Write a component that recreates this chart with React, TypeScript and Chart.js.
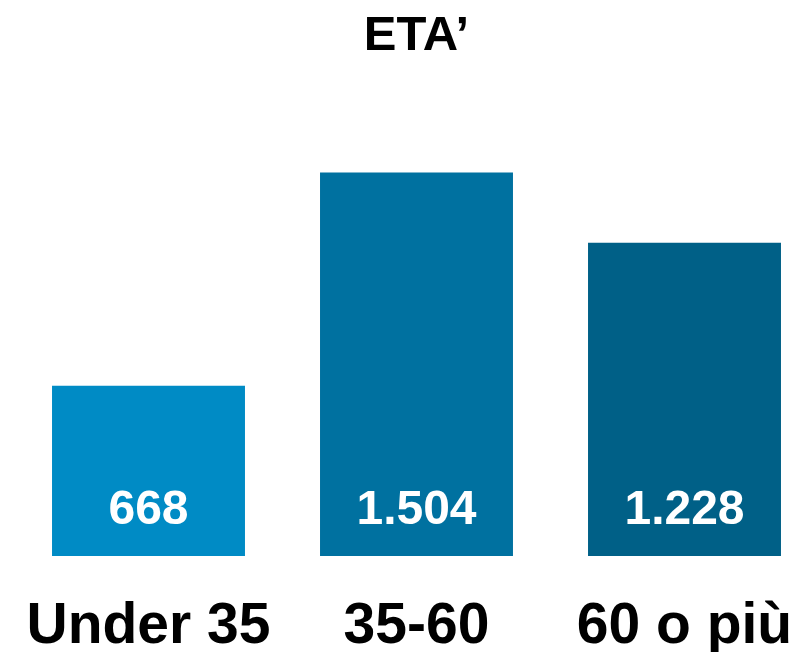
import React, { useEffect, useRef } from "react";
import { Chart, registerables } from "chart.js";

Chart.register(...registerables);

const title = "ETA’";
const categories = ["Under 35", "35-60", "60 o più"];
const values = [668, 1504, 1228];
const barColors = ["#008BC5", "#0071A0", "#006087"];
const yMax = 2000;

const FONT = "'Liberation Sans', Arial, Helvetica, sans-serif";

function formatIt(n: number): string {
  return String(n).replace(/\B(?=(\d{3})+(?!\d))/g, ".");
}

const overlayPlugin = {
  id: "overlay",
  afterDatasetsDraw(chart: any) {
    const ctx = chart.ctx;
    const xs = chart.scales.x;
    const ys = chart.scales.y;
    const meta = chart.getDatasetMeta(0);
    const base = ys.getPixelForValue(0);
    ctx.save();
    ctx.fillStyle = "#ffffff";
    ctx.font = `bold 48px ${FONT}`;
    ctx.textAlign = "center";
    ctx.textBaseline = "alphabetic";
    meta.data.forEach((el: any, i: number) => {
      ctx.fillText(formatIt(values[i]), el.x, base - 32.5);
    });
    // title centred over the category range
    ctx.fillStyle = "#000000";
    ctx.font = `bold 49px ${FONT}`;
    const cx = xs.getPixelForValue((categories.length - 1) / 2);
    ctx.fillText(title, cx, 50);
    ctx.restore();
  },
};

export default function App() {
  const ref = useRef<HTMLCanvasElement | null>(null);

  useEffect(() => {
    document.body.style.margin = "0";
    if (!ref.current) return;
    const chart = new Chart(ref.current, {
      type: "bar",
      data: {
        datasets: [
          {
            data: values.map((v, i) => ({ x: i, y: v })),
            backgroundColor: barColors,
            borderWidth: 0,
            barPercentage: 0.72,
            categoryPercentage: 1,
          },
        ],
      },
      options: {
        animation: false,
        responsive: true,
        maintainAspectRatio: false,
        layout: { padding: { top: 46, bottom: 3, left: 0, right: 0 } },
        plugins: {
          legend: { display: false },
          tooltip: { enabled: false },
          title: { display: false },
        },
        scales: {
          x: {
            type: "linear",
            offset: false,
            min: -148.5 / 268,
            max: (807 - 148.5) / 268,
            grid: { display: false, drawTicks: false },
            border: { display: false },
            afterBuildTicks: (scale: any) => {
              scale.ticks = categories.map((_, i) => ({ value: i }));
            },
            afterFit: (scale: any) => {
              scale.paddingLeft = 0;
              scale.paddingRight = 0;
              scale.height = 96;
            },
            ticks: {
              color: "#000000",
              padding: 43,
              maxRotation: 0,
              minRotation: 0,
              autoSkip: false,
              font: { family: FONT, size: 57, weight: "bold", lineHeight: 1 },
              callback: (v: any) => categories[v as number] ?? "",
            },
          },
          y: {
            display: false,
            min: 0,
            max: yMax,
          },
        },
      },
      plugins: [overlayPlugin],
    });
    return () => chart.destroy();
  }, []);

  return (
    <div style={{ width: "807px", height: "655px", position: "relative" }}>
      <canvas ref={ref} />
    </div>
  );
}
